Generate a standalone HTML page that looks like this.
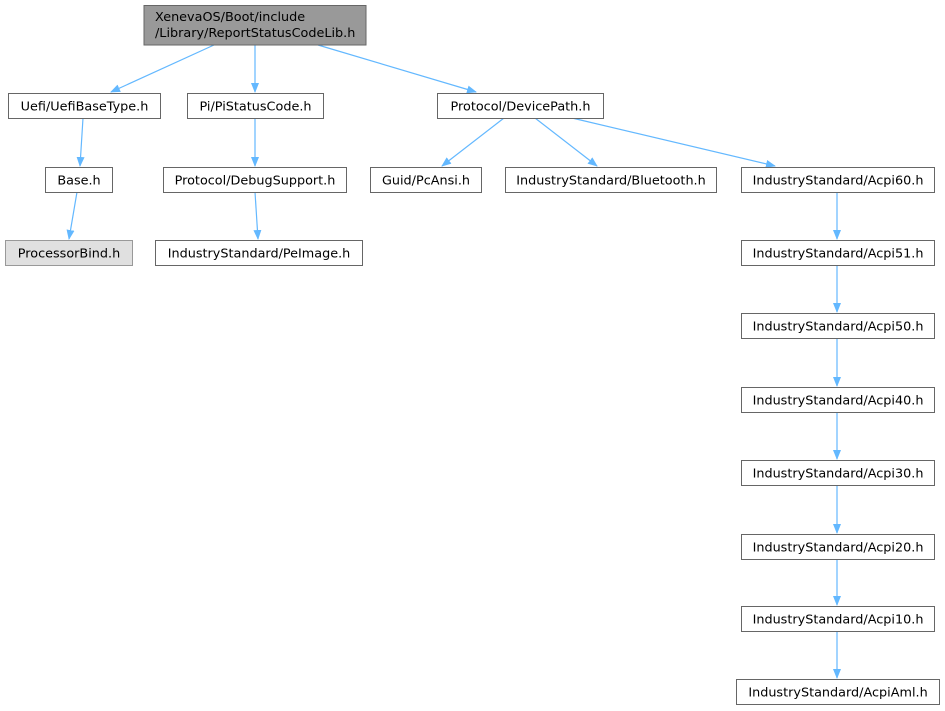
<!DOCTYPE html>
<html><head><meta charset="utf-8"><style>
html,body{margin:0;padding:0;background:#fff;}
svg{display:block;}
text{font-family:"DejaVu Sans","Liberation Sans",sans-serif;font-size:12.8px;fill:#000;}
.n{fill:#fff;stroke:#666;stroke-width:1;}
.e{stroke:#63b8ff;stroke-width:1.2;fill:none;}
</style></head><body>
<svg width="945" height="711" viewBox="0 0 945 711" xmlns="http://www.w3.org/2000/svg">
<defs><marker id="m" markerWidth="10" markerHeight="8" refX="9" refY="4" orient="auto" markerUnits="userSpaceOnUse"><path d="M0,0 L10,4 L0,8 z" fill="#63b8ff"/></marker></defs>
<line class="e" x1="214" y1="45" x2="111" y2="92" marker-end="url(#m)"/>
<line class="e" x1="255" y1="45" x2="255" y2="92" marker-end="url(#m)"/>
<line class="e" x1="318" y1="45" x2="476" y2="92" marker-end="url(#m)"/>
<line class="e" x1="83" y1="118" x2="80" y2="166" marker-end="url(#m)"/>
<line class="e" x1="77" y1="192" x2="69" y2="239" marker-end="url(#m)"/>
<line class="e" x1="255" y1="118" x2="255" y2="166" marker-end="url(#m)"/>
<line class="e" x1="255" y1="192" x2="258" y2="239" marker-end="url(#m)"/>
<line class="e" x1="504" y1="118" x2="442" y2="166" marker-end="url(#m)"/>
<line class="e" x1="535" y1="118" x2="597" y2="166" marker-end="url(#m)"/>
<line class="e" x1="572" y1="118" x2="775" y2="166" marker-end="url(#m)"/>
<line class="e" x1="837" y1="192" x2="837" y2="239" marker-end="url(#m)"/>
<line class="e" x1="837" y1="266" x2="837" y2="312" marker-end="url(#m)"/>
<line class="e" x1="837" y1="339" x2="837" y2="386" marker-end="url(#m)"/>
<line class="e" x1="837" y1="413" x2="837" y2="459" marker-end="url(#m)"/>
<line class="e" x1="837" y1="486" x2="837" y2="533" marker-end="url(#m)"/>
<line class="e" x1="837" y1="559" x2="837" y2="605" marker-end="url(#m)"/>
<line class="e" x1="837" y1="632" x2="837" y2="678" marker-end="url(#m)"/>

<rect x="144" y="5.5" width="222" height="39.5" fill="#999" stroke="#666"/>
<text x="155" y="21">XenevaOS/Boot/include</text>
<text x="155" y="37">/Library/ReportStatusCodeLib.h</text>

<rect class="n" x="8.5" y="93.5" width="152" height="25"/><text x="84.5" y="110.5" text-anchor="middle">Uefi/UefiBaseType.h</text>
<rect class="n" x="187.5" y="93.5" width="136" height="25"/><text x="255.5" y="110.5" text-anchor="middle">Pi/PiStatusCode.h</text>
<rect class="n" x="437.5" y="93.5" width="166" height="25"/><text x="520.5" y="110.5" text-anchor="middle">Protocol/DevicePath.h</text>

<rect class="n" x="45.5" y="167.5" width="67" height="25"/><text x="79" y="184.5" text-anchor="middle">Base.h</text>
<rect class="n" x="163.5" y="167.5" width="183" height="25"/><text x="255" y="184.5" text-anchor="middle">Protocol/DebugSupport.h</text>
<rect class="n" x="370.5" y="167.5" width="111" height="25"/><text x="426" y="184.5" text-anchor="middle">Guid/PcAnsi.h</text>
<rect class="n" x="505.5" y="167.5" width="211" height="25"/><text x="611" y="184.5" text-anchor="middle">IndustryStandard/Bluetooth.h</text>
<rect class="n" x="741.5" y="167.5" width="193" height="25"/><text x="838" y="184.5" text-anchor="middle">IndustryStandard/Acpi60.h</text>

<rect x="5.5" y="240.5" width="127" height="25" fill="#e0e0e0" stroke="#999"/><text x="69" y="257.5" text-anchor="middle">ProcessorBind.h</text>
<rect class="n" x="155.5" y="240.5" width="207" height="25"/><text x="259" y="257.5" text-anchor="middle">IndustryStandard/PeImage.h</text>
<rect class="n" x="741.5" y="240.5" width="193" height="25"/><text x="838" y="257.5" text-anchor="middle">IndustryStandard/Acpi51.h</text>
<rect class="n" x="741.5" y="313.5" width="193" height="25"/><text x="838" y="330.5" text-anchor="middle">IndustryStandard/Acpi50.h</text>
<rect class="n" x="741.5" y="387.5" width="193" height="25"/><text x="838" y="404.5" text-anchor="middle">IndustryStandard/Acpi40.h</text>
<rect class="n" x="741.5" y="460.5" width="193" height="25"/><text x="838" y="477.5" text-anchor="middle">IndustryStandard/Acpi30.h</text>
<rect class="n" x="741.5" y="534.5" width="193" height="25"/><text x="838" y="551.5" text-anchor="middle">IndustryStandard/Acpi20.h</text>
<rect class="n" x="741.5" y="606.5" width="193" height="25"/><text x="838" y="623.5" text-anchor="middle">IndustryStandard/Acpi10.h</text>
<rect class="n" x="736.5" y="679.5" width="203" height="25"/><text x="838" y="696.5" text-anchor="middle">IndustryStandard/AcpiAml.h</text>
</svg>
</body></html>
